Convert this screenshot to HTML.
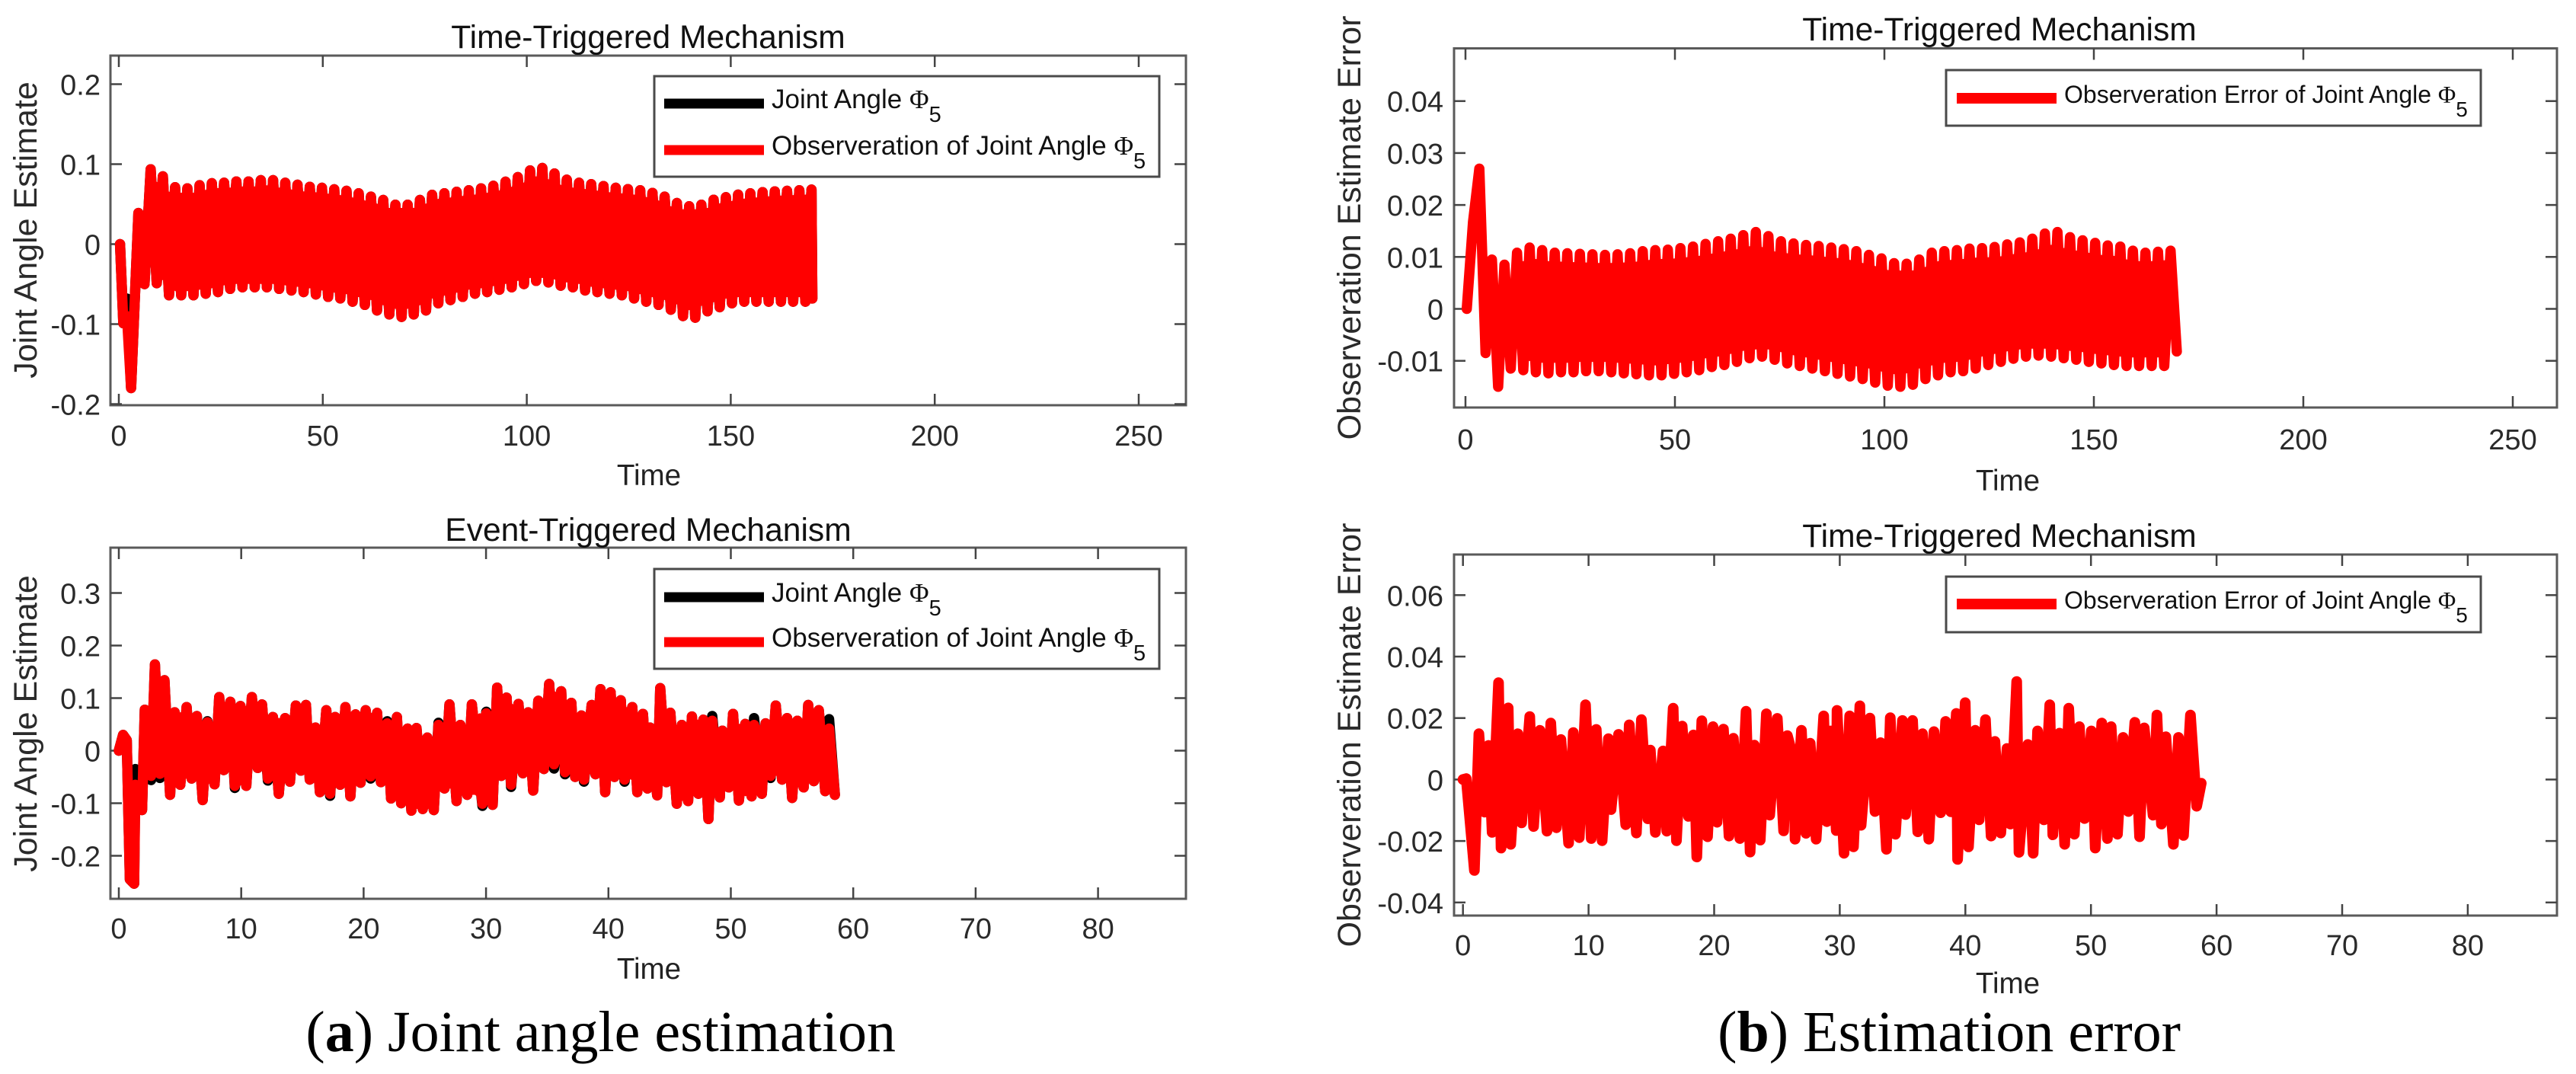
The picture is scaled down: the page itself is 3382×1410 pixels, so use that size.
<!DOCTYPE html>
<html lang="en">
<head>
<meta charset="utf-8">
<title>Joint angle estimation and estimation error</title>
<style>
html,body{margin:0;padding:0;background:#fff;}
svg{display:block;}
text{font-family:"Liberation Sans",sans-serif;fill:#1f1f1f;}
.title{font-size:42.6px;text-anchor:middle;fill:#111;}
.axis-title{font-size:38.6px;text-anchor:middle;fill:#222;}
.y-title{font-size:43px;text-anchor:middle;fill:#2a2a2a;}
.legend-text{font-size:32px;fill:#111;}
.legend-text-wide{font-size:35px;fill:#111;}
.phi{font-family:"Liberation Serif",serif;}
.caption{font-family:"Liberation Serif",serif;font-size:76px;fill:#000;text-anchor:end;}
.tick-label{font-size:38px;fill:#2a2a2a;}
</style>
</head>
<body>
<svg id="figure" xmlns="http://www.w3.org/2000/svg" width="3382" height="1410" viewBox="0 0 3382 1410">
<rect x="0" y="0" width="3382" height="1410" fill="#fff"/>
<g id="plots"></g>

<text class="title" x="851" y="63">Time-Triggered Mechanism</text>
<text class="title" x="851" y="710">Event-Triggered Mechanism</text>
<text class="title" x="2625" y="53">Time-Triggered Mechanism</text>
<text class="title" x="2625" y="718">Time-Triggered Mechanism</text>

<text class="axis-title" x="852" y="637">Time</text>
<text class="axis-title" x="852" y="1285">Time</text>
<text class="axis-title" x="2636" y="644">Time</text>
<text class="axis-title" x="2636" y="1304">Time</text>

<text class="y-title" transform="translate(48,302) rotate(-90)">Joint Angle Estimate</text>
<text class="y-title" transform="translate(48,950) rotate(-90)">Joint Angle Estimate</text>
<text class="y-title" transform="translate(1786,299) rotate(-90)">Observeration Estimate Error</text>
<text class="y-title" transform="translate(1786,965) rotate(-90)">Observeration Estimate Error</text>

<g>
  <rect x="859" y="100" width="663" height="132" fill="#fff" stroke="#4a4a4a" stroke-width="3"/>
  <line x1="872" x2="1003" y1="136" y2="136" stroke="#000" stroke-width="13"/>
  <text class="legend-text-wide" x="1013" y="142">Joint Angle <tspan class="phi">Φ</tspan><tspan font-size="29" dy="18">5</tspan></text>
  <line x1="872" x2="1003" y1="197" y2="197" stroke="#f00" stroke-width="13"/>
  <text class="legend-text-wide" x="1013" y="203">Observeration of Joint Angle <tspan class="phi">Φ</tspan><tspan font-size="29" dy="18">5</tspan></text>
</g>
<g>
  <rect x="859" y="747" width="663" height="131" fill="#fff" stroke="#4a4a4a" stroke-width="3"/>
  <line x1="872" x2="1003" y1="784" y2="784" stroke="#000" stroke-width="13"/>
  <text class="legend-text-wide" x="1013" y="790">Joint Angle <tspan class="phi">Φ</tspan><tspan font-size="29" dy="18">5</tspan></text>
  <line x1="872" x2="1003" y1="843" y2="843" stroke="#f00" stroke-width="13"/>
  <text class="legend-text-wide" x="1013" y="849">Observeration of Joint Angle <tspan class="phi">Φ</tspan><tspan font-size="29" dy="18">5</tspan></text>
</g>
<g>
  <rect x="2555" y="92" width="702" height="73" fill="#fff" stroke="#4a4a4a" stroke-width="3"/>
  <line x1="2569" x2="2700" y1="129" y2="129" stroke="#f00" stroke-width="14"/>
  <text class="legend-text" x="2710" y="135">Observeration Error of Joint Angle <tspan class="phi">Φ</tspan><tspan font-size="28" dy="18">5</tspan></text>
</g>
<g>
  <rect x="2555" y="757" width="702" height="73" fill="#fff" stroke="#4a4a4a" stroke-width="3"/>
  <line x1="2569" x2="2700" y1="793" y2="793" stroke="#f00" stroke-width="14"/>
  <text class="legend-text" x="2710" y="799">Observeration Error of Joint Angle <tspan class="phi">Φ</tspan><tspan font-size="28" dy="18">5</tspan></text>
</g>

<text class="caption" x="1176" y="1380">(<tspan font-weight="bold">a</tspan>) Joint angle estimation</text>
<text class="caption" x="2863" y="1380">(<tspan font-weight="bold">b</tspan>) Estimation error</text>
</svg>

<script>
// ---------- tick values and labels ----------
const angleTopXTicks = [0, 50, 100, 150, 200, 250];
const angleTopXLabels = ['0', '50', '100', '150', '200', '250'];
const angleTopYTicks = [-0.2, -0.1, 0, 0.1, 0.2];
const angleTopYLabels = ['-0.2', '-0.1', '0', '0.1', '0.2'];
const angleBottomXTicks = [0, 10, 20, 30, 40, 50, 60, 70, 80];
const angleBottomXLabels = ['0', '10', '20', '30', '40', '50', '60', '70', '80'];
const angleBottomYTicks = [-0.2, -0.1, 0, 0.1, 0.2, 0.3];
const angleBottomYLabels = ['-0.2', '-0.1', '0', '0.1', '0.2', '0.3'];
const errorTopXTicks = [0, 50, 100, 150, 200, 250];
const errorTopXLabels = ['0', '50', '100', '150', '200', '250'];
const errorTopYTicks = [-0.01, 0, 0.01, 0.02, 0.03, 0.04];
const errorTopYLabels = ['-0.01', '0', '0.01', '0.02', '0.03', '0.04'];
const errorBottomXTicks = [0, 10, 20, 30, 40, 50, 60, 70, 80];
const errorBottomXLabels = ['0', '10', '20', '30', '40', '50', '60', '70', '80'];
const errorBottomYTicks = [-0.04, -0.02, 0, 0.02, 0.04, 0.06];
const errorBottomYLabels = ['-0.04', '-0.02', '0', '0.02', '0.04', '0.06'];

// ---------- panel (a) top: time-triggered joint angle ----------
const angleTopStartTimes = [0.3, 1.1, 2.0, 3.0, 4.8, 6.3];
const angleTopSampleStart = 7.8;
const angleTopSampleStep = 1.5;
const angleTopEndTime = 170;
const angleTopStart = [0, -0.099, -0.09, -0.18, 0.039, -0.05];
const angleTopTrueStart = [0, -0.099, -0.068, -0.18, 0.039, -0.05];
const angleTopPeaks = [0.0936,0.0848,0.0711,0.0698,0.0737,0.0762,0.0768,0.0784,0.0784,0.08,0.08,0.0768,0.0743,0.0717,0.0705,0.0686,0.0667,0.0635,0.0594,0.0552,0.0492,0.0492,0.0552,0.0616,0.0635,0.0654,0.0673,0.0698,0.073,0.0781,0.0838,0.0921,0.0952,0.0883,0.0806,0.0768,0.075,0.0727,0.0705,0.0689,0.0673,0.0641,0.0594,0.0514,0.0473,0.0492,0.0555,0.0587,0.0619,0.0635,0.065,0.066,0.0667,0.0673,0.0682];
const angleTopTroughs = [-0.049,-0.064,-0.064,-0.064,-0.062,-0.06,-0.056,-0.054,-0.054,-0.054,-0.056,-0.058,-0.06,-0.063,-0.066,-0.068,-0.072,-0.076,-0.083,-0.088,-0.091,-0.088,-0.083,-0.074,-0.07,-0.066,-0.062,-0.06,-0.057,-0.054,-0.05,-0.046,-0.048,-0.052,-0.054,-0.058,-0.06,-0.062,-0.064,-0.068,-0.072,-0.076,-0.082,-0.09,-0.092,-0.084,-0.079,-0.074,-0.072,-0.072,-0.072,-0.072,-0.072,-0.072,-0.068];

// ---------- panel (a) bottom: event-triggered joint angle ----------
const angleBottomPeakTimes = [0.35,0.65,1.35,2.12,2.95,3.73,4.56,5.54,6.37,7.24,8.2,9.11,9.94,10.87,11.7,12.59,13.59,14.46,15.29,16.06,16.95,17.68,18.51,19.34,20.17,21.1,21.93,22.72,23.59,24.32,25.21,26.12,27.01,27.9,28.84,30.02,30.91,31.68,32.65,33.44,34.27,35.16,36.14,36.97,37.8,38.63,39.35,40.18,41.01,41.95,42.82,43.4,44.23,45.06,45.99,46.82,47.76,48.48,49.31,50.18,51.18,51.9,52.84,53.67,54.6,55.43,56.32,57.19,58.03];
const angleBottomPeaks = [0.03,0.02,-0.065,0.078,0.164,0.134,0.073,0.083,0.066,0.054,0.102,0.093,0.085,0.102,0.088,0.064,0.062,0.086,0.087,0.044,0.077,0.064,0.083,0.069,0.077,0.072,0.052,0.064,0.042,0.043,0.025,0.049,0.088,0.049,0.088,0.071,0.12,0.101,0.089,0.073,0.095,0.127,0.113,0.091,0.067,0.087,0.117,0.111,0.096,0.083,0.07,0.044,0.119,0.072,0.049,0.065,0.059,0.057,0.038,0.07,0.051,0.049,0.052,0.086,0.062,0.057,0.087,0.077,0.042];
const angleBottomTruePeaks = [0.03,0.02,-0.035,0.078,0.164,0.134,0.073,0.083,0.066,0.056,0.102,0.093,0.085,0.102,0.088,0.064,0.062,0.086,0.087,0.044,0.077,0.064,0.083,0.069,0.077,0.072,0.056,0.064,0.042,0.043,0.025,0.053,0.088,0.049,0.088,0.074,0.12,0.101,0.089,0.073,0.095,0.127,0.113,0.091,0.067,0.087,0.117,0.111,0.096,0.083,0.07,0.044,0.119,0.072,0.049,0.065,0.059,0.066,0.038,0.07,0.051,0.062,0.052,0.086,0.062,0.057,0.087,0.077,0.06];
const angleBottomTroughTimes = [0.9,1.25,1.9,2.63,3.36,4.19,5.02,5.95,6.85,7.82,8.59,9.48,10.41,11.35,12.18,13.07,13.98,14.88,15.6,16.43,17.26,18.09,18.92,19.75,20.58,21.41,22.24,23.07,23.9,24.83,25.73,26.6,27.59,28.46,29.71,30.54,31.26,32.05,33.02,33.85,34.73,35.56,36.45,37.28,38.0,38.94,39.73,40.49,41.32,42.36,43.19,43.98,44.75,45.58,46.51,47.34,48.17,49.1,49.83,50.66,51.7,52.53,53.25,54.19,55.01,55.95,56.78,57.71,58.5];
const angleBottomTroughs = [-0.245,-0.253,-0.113,-0.048,-0.044,-0.084,-0.065,-0.053,-0.094,-0.064,-0.037,-0.067,-0.067,-0.033,-0.053,-0.082,-0.059,-0.038,-0.055,-0.079,-0.082,-0.065,-0.087,-0.061,-0.049,-0.06,-0.091,-0.1,-0.114,-0.111,-0.113,-0.072,-0.096,-0.084,-0.101,-0.103,-0.048,-0.065,-0.043,-0.076,-0.035,-0.026,-0.041,-0.05,-0.055,-0.045,-0.079,-0.05,-0.055,-0.079,-0.072,-0.085,-0.06,-0.101,-0.096,-0.082,-0.13,-0.089,-0.07,-0.095,-0.087,-0.082,-0.048,-0.055,-0.09,-0.07,-0.058,-0.077,-0.084];
const angleBottomTrueTroughs = [-0.245,-0.253,-0.113,-0.056,-0.052,-0.084,-0.065,-0.053,-0.094,-0.064,-0.037,-0.071,-0.067,-0.033,-0.057,-0.082,-0.059,-0.038,-0.055,-0.079,-0.086,-0.065,-0.087,-0.061,-0.053,-0.06,-0.091,-0.1,-0.114,-0.111,-0.113,-0.072,-0.096,-0.084,-0.105,-0.103,-0.048,-0.069,-0.043,-0.076,-0.035,-0.034,-0.045,-0.05,-0.059,-0.045,-0.079,-0.05,-0.059,-0.079,-0.072,-0.085,-0.06,-0.101,-0.096,-0.082,-0.13,-0.089,-0.07,-0.095,-0.087,-0.082,-0.052,-0.055,-0.09,-0.07,-0.058,-0.077,-0.084];

// ---------- panel (b) top: error ----------
const errorTopSampleStart = 0.3;
const errorTopSampleStep = 1.5;
const errorTopStart = [0, 0.0167, 0.027, -0.0085, 0.0095, -0.015, 0.0085, -0.0115];
const errorTopPeaks = [0.0108,0.0118,0.0113,0.0108,0.0107,0.0106,0.0105,0.0104,0.0105,0.0107,0.0111,0.0113,0.0114,0.0117,0.012,0.0125,0.013,0.0135,0.0142,0.0148,0.014,0.013,0.0126,0.0123,0.0121,0.0118,0.0115,0.0111,0.0104,0.0097,0.0088,0.0087,0.0095,0.0108,0.0111,0.0113,0.0116,0.0117,0.0119,0.0124,0.0128,0.0135,0.0145,0.0148,0.0138,0.0132,0.0127,0.0122,0.012,0.0112,0.0108,0.011,0.0112];
const errorTopTroughs = [-0.0118,-0.0122,-0.0124,-0.0122,-0.0122,-0.012,-0.012,-0.0122,-0.0124,-0.0126,-0.0128,-0.0128,-0.0125,-0.0122,-0.0118,-0.0112,-0.0108,-0.0102,-0.0095,-0.0092,-0.0098,-0.0105,-0.011,-0.0115,-0.012,-0.0125,-0.013,-0.0135,-0.0142,-0.0148,-0.015,-0.0146,-0.0135,-0.0128,-0.0122,-0.012,-0.0115,-0.0108,-0.0102,-0.0096,-0.0092,-0.009,-0.0092,-0.0095,-0.0098,-0.0102,-0.0105,-0.0108,-0.011,-0.011,-0.011,-0.011,-0.0082];

// ---------- panel (b) bottom: error ----------
const errorBottomPeakTimes = [0.26,1.27,2.04,2.83,3.6,4.37,5.32,6.13,6.99,7.8,8.79,9.76,10.61,11.58,12.39,13.24,14.21,14.92,15.93,16.74,17.45,18.35,19.02,19.91,20.74,21.53,22.54,23.2,24.16,25.03,25.83,26.34,26.95,27.65,28.72,29.27,29.78,30.79,31.6,32.4,33.25,34.02,34.99,35.8,36.59,37.5,38.43,39.28,39.99,40.79,41.6,42.35,43.32,44.09,44.98,45.75,46.72,47.5,48.23,49.08,50.03,50.86,51.61,52.56,53.49,54.24,55.25,55.96,56.97,57.92,58.78];
const errorBottomPeaks = [0.0003,0.0149,0.0111,0.0315,0.0233,0.0149,0.0205,0.016,0.0184,0.013,0.0153,0.0243,0.0163,0.0133,0.0147,0.0178,0.0195,0.0096,0.0093,0.0232,0.0174,0.0145,0.0191,0.0172,0.0164,0.0134,0.0222,0.0112,0.0214,0.0199,0.0143,0.0065,0.016,0.0118,0.0207,0.0158,0.0225,0.0207,0.024,0.02,0.012,0.0201,0.0192,0.0192,0.0149,0.0156,0.0189,0.0215,0.025,0.016,0.0195,0.0124,0.0101,0.0319,0.0114,0.0158,0.0243,0.0151,0.0232,0.0172,0.0158,0.0184,0.0172,0.0137,0.0186,0.0168,0.021,0.0139,0.0137,0.021,-0.0012];
const errorBottomTroughTimes = [0.91,1.72,2.32,3.03,3.8,4.67,5.62,6.69,7.44,8.41,9.26,10.21,11.08,11.79,12.96,13.81,14.72,15.32,16.23,17.0,17.95,18.62,19.47,20.23,21.18,22.05,22.86,23.67,24.42,25.53,26.44,27.31,28.12,28.97,29.72,30.34,31.09,31.7,32.81,33.72,34.43,35.24,36.21,37.09,38.03,38.85,39.38,40.25,41.1,42.05,42.82,43.58,44.27,45.4,46.25,46.96,47.91,48.68,49.49,50.34,51.31,52.11,52.98,53.87,54.94,55.61,56.56,57.37,58.42];
const errorBottomTroughs = [-0.0296,-0.0106,-0.0172,-0.0223,-0.0211,-0.0141,-0.0153,-0.0168,-0.0157,-0.0207,-0.0189,-0.0192,-0.0199,-0.0098,-0.0147,-0.0174,-0.0128,-0.0172,-0.0168,-0.0199,-0.012,-0.0252,-0.0186,-0.0139,-0.0184,-0.0192,-0.0236,-0.0197,-0.0116,-0.0167,-0.0194,-0.0175,-0.0194,-0.0137,-0.0166,-0.024,-0.0219,-0.0149,-0.0104,-0.0227,-0.0178,-0.0114,-0.017,-0.0194,-0.0108,-0.0105,-0.026,-0.0219,-0.0131,-0.0184,-0.0174,-0.0145,-0.0237,-0.024,-0.0131,-0.018,-0.0211,-0.0178,-0.0127,-0.0223,-0.0192,-0.0178,-0.0104,-0.0186,-0.0116,-0.0145,-0.0211,-0.0182,-0.0087];

// ---------- drawing ----------
const NS = 'http://www.w3.org/2000/svg';
const plotsRoot = document.getElementById('plots');

function make(parent, tag, attrs) {
  const el = document.createElementNS(NS, tag);
  for (const key in attrs) el.setAttribute(key, attrs[key]);
  parent.appendChild(el);
  return el;
}

function xAt(panel, t) { return panel.x0 + t * panel.pxPerX; }
function yAt(panel, v) { return panel.y0 - v * panel.pxPerY; }

function uniformTimes(start, step, count) {
  const out = [];
  for (let i = 0; i < count; i++) out.push(start + i * step);
  return out;
}

function alternate(startVals, peaks, troughs) {
  const out = startVals.slice();
  const n = Math.max(peaks.length, troughs.length);
  for (let i = 0; i < n; i++) {
    if (i < peaks.length) out.push(peaks[i]);
    if (i < troughs.length) out.push(troughs[i]);
  }
  return out;
}

function mergeByTime(peakTimes, peaks, troughTimes, troughs) {
  const pts = [];
  peakTimes.forEach(function (t, i) { pts.push([t, peaks[i]]); });
  troughTimes.forEach(function (t, i) { pts.push([t, troughs[i]]); });
  pts.sort(function (a, b) { return a[0] - b[0]; });
  pts.unshift([0, 0]);
  return pts;
}

function drawAxes(panel, prefix) {
  const g = make(plotsRoot, 'g', {});
  
  
  const box = make(g, 'rect', {x: panel.left, y: panel.top, width: panel.right - panel.left, height: panel.bottom - panel.top, fill: 'none', stroke: '#5a5a5a', 'stroke-width': 3});
  
  
  panel.xTicks.forEach(function (t, i) {
    const x = xAt(panel, t);
    const lo = make(g, 'line', {x1: x, x2: x, y1: panel.bottom, y2: panel.bottom - 15, stroke: '#444', 'stroke-width': 2.5});
    
    
    const hi = make(g, 'line', {x1: x, x2: x, y1: panel.top, y2: panel.top + 15, stroke: '#444', 'stroke-width': 2.5});
    
    
    const label = make(g, 'text', {x: x, y: panel.xLabelY, 'text-anchor': 'middle', 'class': 'tick-label'});
    
    
    label.textContent = panel.xLabels[i];
  });
  panel.yTicks.forEach(function (v, i) {
    const y = yAt(panel, v);
    const lo = make(g, 'line', {x1: panel.left, x2: panel.left + 15, y1: y, y2: y, stroke: '#444', 'stroke-width': 2.5});
    
    
    const hi = make(g, 'line', {x1: panel.right, x2: panel.right - 15, y1: y, y2: y, stroke: '#444', 'stroke-width': 2.5});
    
    
    const label = make(g, 'text', {x: panel.yLabelX, y: y + 14, 'text-anchor': 'end', 'class': 'tick-label'});
    
    
    label.textContent = panel.yLabels[i];
  });
}

function drawLine(panel, pts, colour, name) {
  const d = pts.map(function (p) {
    return xAt(panel, p[0]).toFixed(1) + ',' + yAt(panel, p[1]).toFixed(1);
  }).join(' ');
  const line = make(plotsRoot, 'polyline', {points: d, fill: 'none', stroke: colour, 'stroke-width': panel.lineWidth, 'stroke-linejoin': 'round', 'stroke-linecap': 'round'});
  
  
}

// Solid core of the densely oscillating trace: it runs through the notches
// between neighbouring extremes of the same series.
function drawCore(panel, pts, fromT, toT, factor, name) {
  const upper = [];
  const lower = [];
  for (let i = 1; i < pts.length - 1; i++) {
    const t = pts[i][0];
    if (t < fromT || t > toT) continue;
    const v = pts[i][1];
    if (v >= pts[i - 1][1] && v >= pts[i + 1][1]) upper.push(pts[i]);
    else if (v <= pts[i - 1][1] && v <= pts[i + 1][1]) lower.push(pts[i]);
  }
  const outline = [];
  function walk(list, pick) {
    outline.push([list[0][0], list[0][1] * factor]);
    for (let i = 0; i < list.length - 1; i++) {
      outline.push([(list[i][0] + list[i + 1][0]) / 2, pick(list[i][1], list[i + 1][1]) * factor]);
    }
    outline.push([list[list.length - 1][0], list[list.length - 1][1] * factor]);
  }
  walk(upper, Math.min);
  const mark = outline.length;
  walk(lower, Math.max);
  const lowerPart = outline.splice(mark).reverse();
  const all = outline.concat(lowerPart);
  const d = all.map(function (p) {
    return xAt(panel, p[0]).toFixed(1) + ',' + yAt(panel, p[1]).toFixed(1);
  }).join(' ');
  const core = make(plotsRoot, 'polygon', {points: d, fill: '#f00', stroke: 'none'});
  
  
}

function zip(times, values) {
  return values.map(function (v, i) { return [times[i], v]; });
}

// Panel geometry
const panelAngleTop = {left: 145, right: 1557, top: 73, bottom: 532, x0: 156, pxPerX: 5.356, y0: 320.5, pxPerY: 1050, xLabelY: 585, yLabelX: 132, lineWidth: 13.5, xTicks: angleTopXTicks, xLabels: angleTopXLabels, yTicks: angleTopYTicks, yLabels: angleTopYLabels};
const panelAngleBottom = {left: 145, right: 1557, top: 719, bottom: 1180, x0: 156, pxPerX: 16.07, y0: 985.5, pxPerY: 690, xLabelY: 1232, yLabelX: 132, lineWidth: 13.5, xTicks: angleBottomXTicks, xLabels: angleBottomXLabels, yTicks: angleBottomYTicks, yLabels: angleBottomYLabels};
const panelErrorTop = {left: 1909, right: 3357, top: 63.5, bottom: 535, x0: 1924, pxPerX: 5.5, y0: 405.5, pxPerY: 6820, xLabelY: 590, yLabelX: 1895, lineWidth: 13.5, xTicks: errorTopXTicks, xLabels: errorTopXLabels, yTicks: errorTopYTicks, yLabels: errorTopYLabels};
const panelErrorBottom = {left: 1909, right: 3357, top: 728, bottom: 1202, x0: 1920.7, pxPerX: 16.49, y0: 1023.4, pxPerY: 4035, xLabelY: 1254, yLabelX: 1895, lineWidth: 14, xTicks: errorBottomXTicks, xLabels: errorBottomXLabels, yTicks: errorBottomYTicks, yLabels: errorBottomYLabels};

drawAxes(panelAngleTop, 'angle-top');
drawAxes(panelAngleBottom, 'angle-bottom');
drawAxes(panelErrorTop, 'error-top');
drawAxes(panelErrorBottom, 'error-bottom');

// Panel (a) top
const angleTopRed = alternate(angleTopStart, angleTopPeaks, angleTopTroughs);
const angleTopBlack = alternate(angleTopTrueStart, angleTopPeaks, angleTopTroughs);
const angleTopTimes = angleTopStartTimes.concat(uniformTimes(angleTopSampleStart, angleTopSampleStep, angleTopRed.length - angleTopStartTimes.length));
angleTopTimes[angleTopTimes.length - 1] = angleTopEndTime;
const angleTopRedPts = zip(angleTopTimes, angleTopRed);
drawLine(panelAngleTop, zip(angleTopTimes, angleTopBlack), '#000', 'joint-angle-line-time-triggered');
drawCore(panelAngleTop, angleTopRedPts, 7.8, 170, 0.92, 'observation-core-time-triggered');
drawLine(panelAngleTop, angleTopRedPts, '#f00', 'observation-line-time-triggered');

// Panel (a) bottom
const angleBottomRedPts = mergeByTime(angleBottomPeakTimes, angleBottomPeaks, angleBottomTroughTimes, angleBottomTroughs);
drawLine(panelAngleBottom, mergeByTime(angleBottomPeakTimes, angleBottomTruePeaks, angleBottomTroughTimes, angleBottomTrueTroughs), '#000', 'joint-angle-line-event-triggered');
drawCore(panelAngleBottom, angleBottomRedPts, 2.95, 58.1, 1, 'observation-core-event-triggered');
drawLine(panelAngleBottom, angleBottomRedPts, '#f00', 'observation-line-event-triggered');

// Panel (b) top
const errorTopValues = alternate(errorTopStart, errorTopPeaks, errorTopTroughs);
const errorTopTimes = uniformTimes(errorTopSampleStart, errorTopSampleStep, errorTopValues.length);
const errorTopPts = zip(errorTopTimes, errorTopValues);
drawCore(panelErrorTop, errorTopPts, 12, 169, 0.85, 'error-core-top');
drawLine(panelErrorTop, errorTopPts, '#f00', 'error-line-top');

// Panel (b) bottom
const errorBottomPts = mergeByTime(errorBottomPeakTimes, errorBottomPeaks, errorBottomTroughTimes, errorBottomTroughs);
drawCore(panelErrorBottom, errorBottomPts, 1.27, 58.4, 0.3, 'error-core-bottom');
drawLine(panelErrorBottom, errorBottomPts, '#f00', 'error-line-bottom');
</script>
</body>
</html>
